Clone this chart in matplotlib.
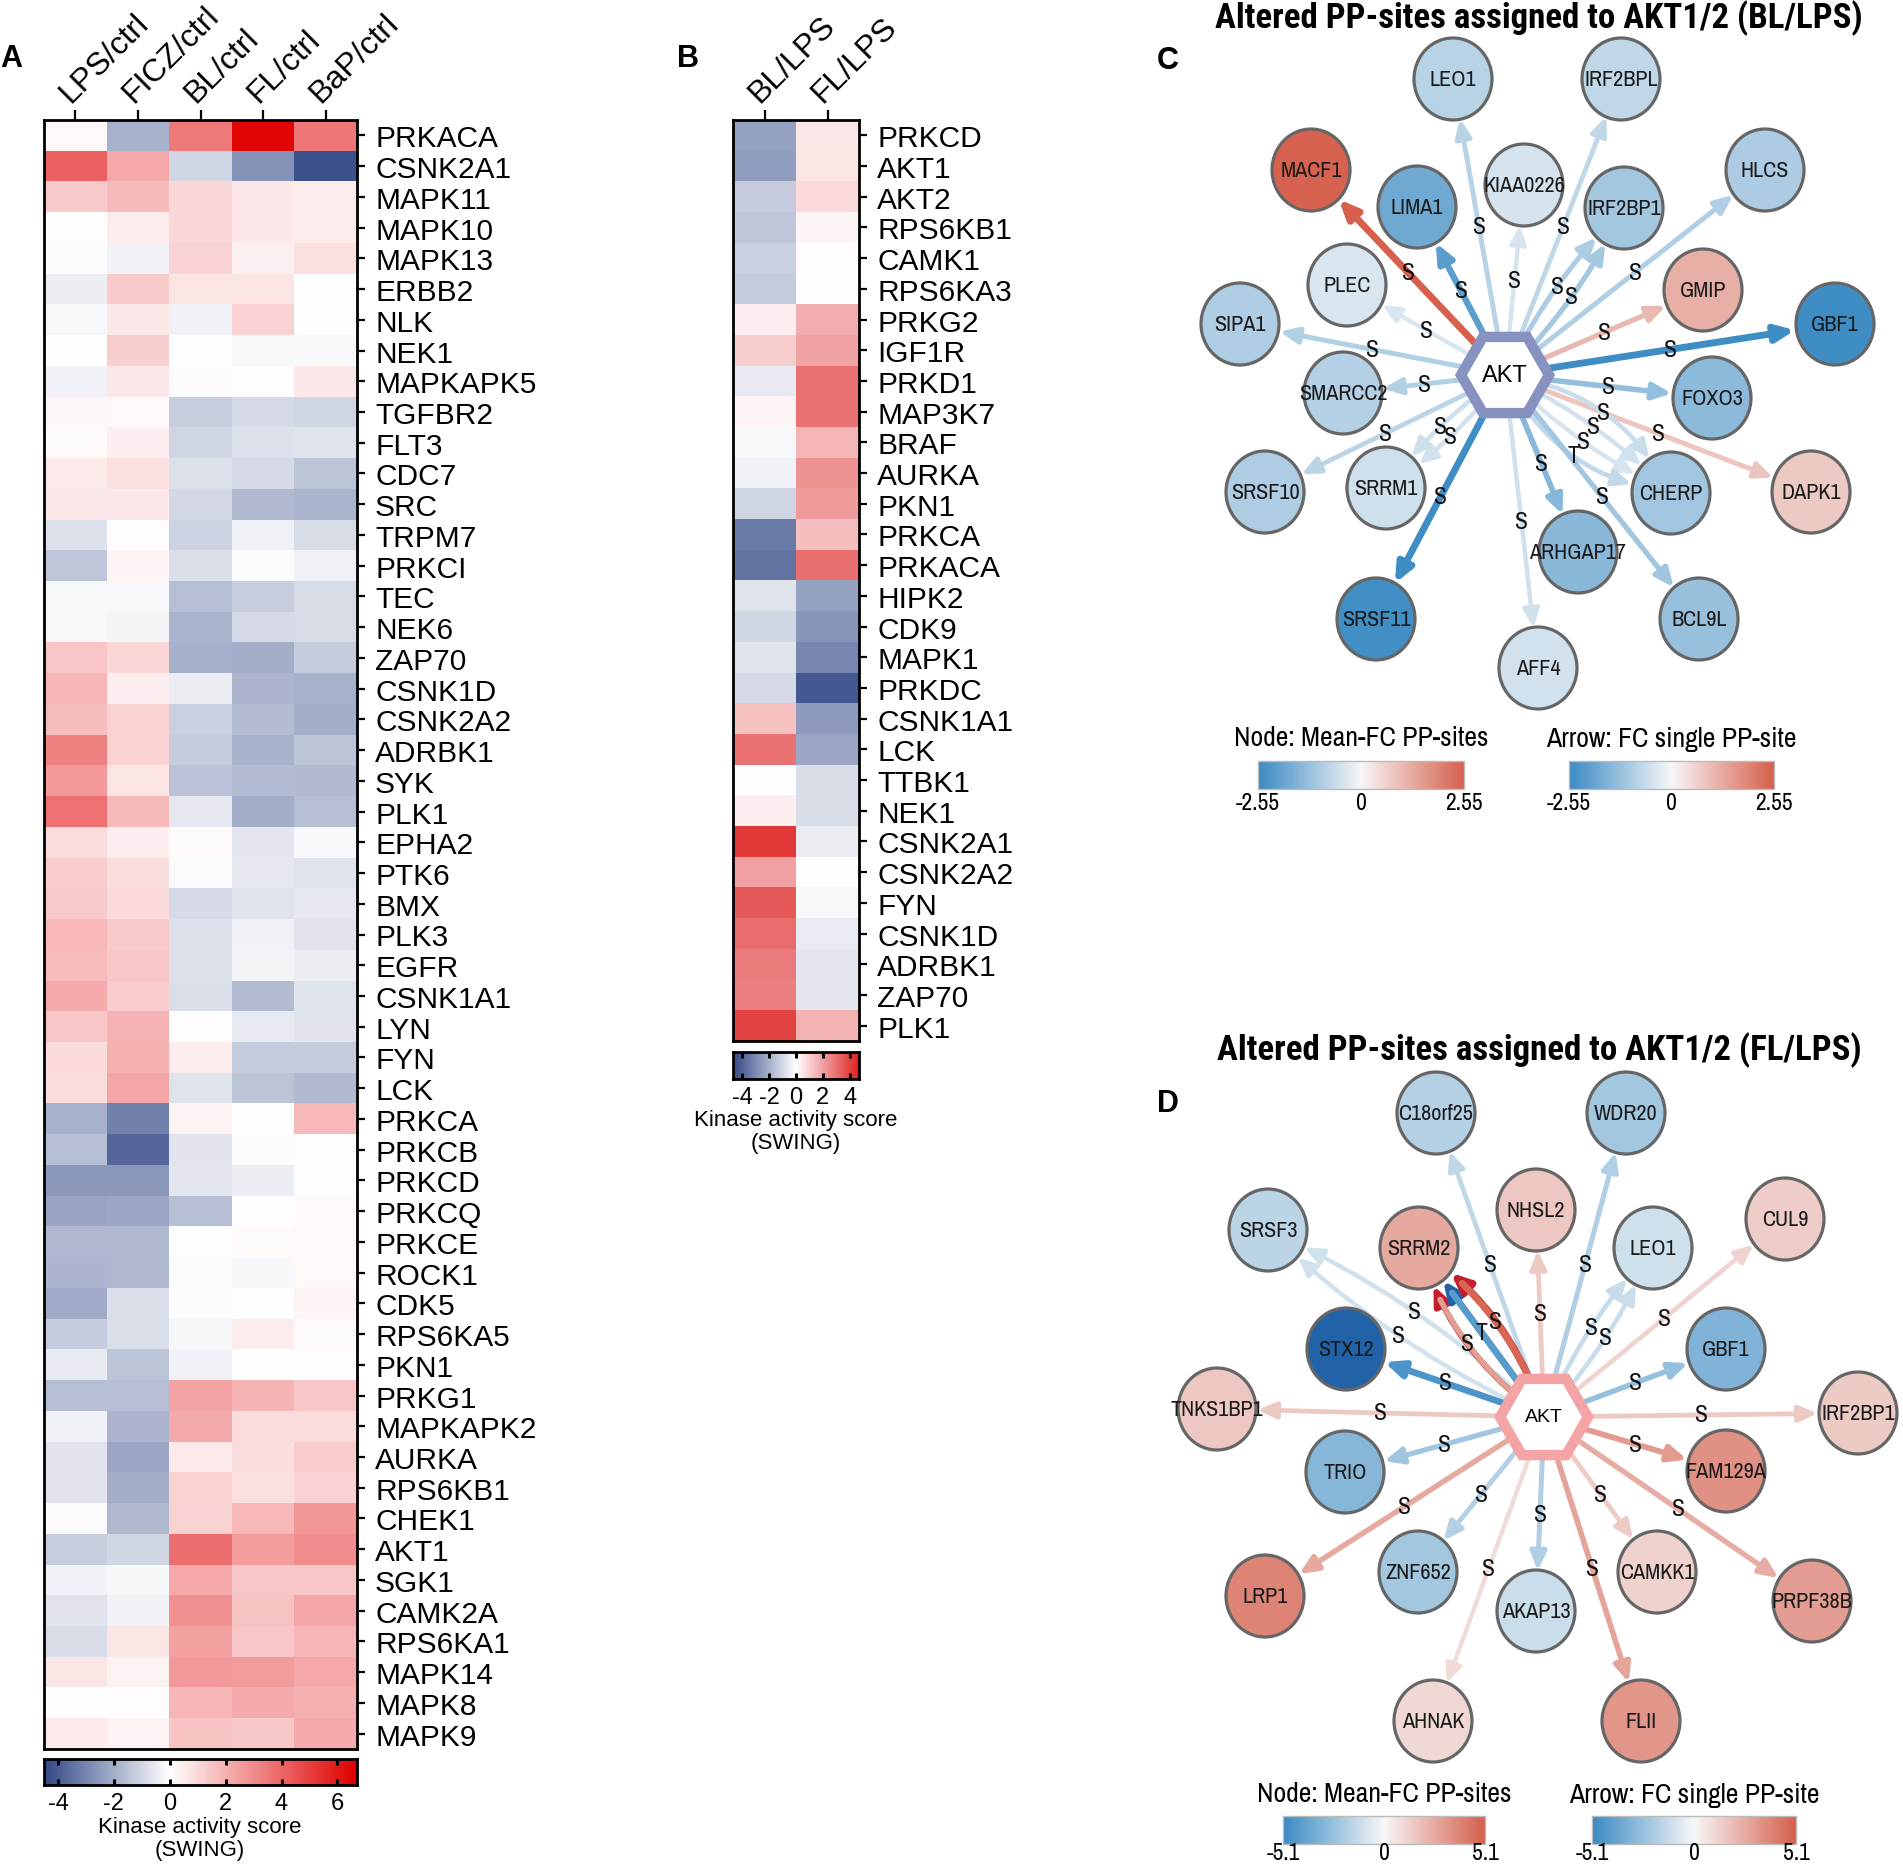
import numpy as np
import matplotlib
matplotlib.use('Agg')
import matplotlib.pyplot as plt
from matplotlib.colors import LinearSegmentedColormap, TwoSlopeNorm, Normalize
from matplotlib.patches import FancyArrowPatch, Ellipse, RegularPolygon, Rectangle
from matplotlib import font_manager as fm
from collections import Counter, defaultdict

# ====================== Panel A data ======================
colsA = ['LPS/ctrl', 'FICZ/ctrl', 'BL/ctrl', 'FL/ctrl', 'BaP/ctrl']
kinasesA = ['PRKACA', 'CSNK2A1', 'MAPK11', 'MAPK10', 'MAPK13', 'ERBB2', 'NLK', 'NEK1',
            'MAPKAPK5', 'TGFBR2', 'FLT3', 'CDC7', 'SRC', 'TRPM7', 'PRKCI', 'TEC', 'NEK6',
            'ZAP70', 'CSNK1D', 'CSNK2A2', 'ADRBK1', 'SYK', 'PLK1', 'EPHA2', 'PTK6', 'BMX',
            'PLK3', 'EGFR', 'CSNK1A1', 'LYN', 'FYN', 'LCK', 'PRKCA', 'PRKCB', 'PRKCD',
            'PRKCQ', 'PRKCE', 'ROCK1', 'CDK5', 'RPS6KA5', 'PKN1', 'PRKG1', 'MAPKAPK2',
            'AURKA', 'RPS6KB1', 'CHEK1', 'AKT1', 'SGK1', 'CAMK2A', 'RPS6KA1', 'MAPK14',
            'MAPK8', 'MAPK9']
LPS_ctrl = [0.2, 4.1, 1.4, 0.0, -0.1, -0.4, -0.15, 0.0, -0.3, 0.25, 0.15, 0.55, 0.6, -0.75,
            -1.4, -0.15, -0.15, 1.5, 1.9, 1.7, 3.3, 2.7, 3.7, 0.9, 1.35, 1.4, 1.85, 1.75, 2.25,
            1.5, 0.95, 0.9, -1.9, -1.6, -2.55, -2.25, -1.75, -1.8, -2.1, -1.25, -0.5, -1.6,
            -0.35, -0.65, -0.65, -0.1, -1.2, -0.3, -0.65, -0.85, 0.65, 0.0, 0.55]
FICZ_ctrl = [-1.9, 2.3, 1.8, 0.5, -0.3, 1.4, 0.6, 1.3, 0.6, 0.2, 0.45, 0.8, 0.6, 0.1,
             0.3, -0.15, -0.25, 1.05, 0.45, 1.2, 1.2, 0.7, 1.8, 0.45, 0.85, 0.95, 1.4, 1.5, 1.35,
             2.0, 2.05, 2.35, -3.1, -3.75, -2.55, -2.15, -1.75, -1.75, -0.8, -0.8, -1.45, -1.55,
             -1.8, -2.15, -2.0, -1.75, -1.0, -0.2, -0.3, 0.65, 0.35, 0.1, 0.35]
BL_ctrl = [3.5, -1.0, 1.0, 1.0, 1.1, 0.7, -0.3, 0.05, -0.05, -1.2, -1.05, -0.75, -0.95, -1.1,
           -0.8, -1.6, -1.85, -1.95, -0.45, -1.15, -1.25, -1.5, -0.55, 0.15, -0.1, -0.9, -0.75,
           -0.75, -0.8, 0.1, 0.5, -0.7, 0.35, -0.65, -0.6, -1.6, 0.03, -0.1, -0.05, -0.2, -0.3,
           2.4, 2.25, 0.55, 1.2, 1.1, 3.8, 2.3, 2.9, 2.5, 2.65, 1.9, 1.55]
FL_ctrl = [6.5, -2.7, 0.6, 0.6, 0.4, 0.7, 1.1, -0.15, 0.0, -0.9, -0.75, -0.9, -1.7, -0.35,
           -0.05, -1.2, -0.9, -2.0, -1.8, -1.65, -1.9, -1.65, -2.0, -0.6, -0.55, -0.7, -0.3,
           -0.25, -1.65, -0.5, -1.3, -1.45, 0.0, -0.05, -0.4, 0.0, 0.15, -0.2, 0.0, 0.5, -0.02,
           1.95, 0.9, 0.85, 0.8, 1.85, 2.6, 1.5, 1.6, 1.5, 2.6, 2.25, 1.45]
BaP_ctrl = [3.6, -4.3, 0.5, 0.5, 0.8, 0.0, 0.0, -0.15, 0.6, -1.05, -0.7, -1.45, -1.85, -0.85,
            -0.35, -0.85, -0.85, -1.25, -1.9, -2.0, -1.45, -1.7, -1.6, -0.15, -0.7, -0.55, -0.65,
            -0.4, -0.7, -0.65, -1.25, -1.7, 1.85, 0.1, 0.1, 0.2, 0.2, 0.2, 0.3, 0.15, 0.02,
            1.5, 0.9, 1.35, 1.15, 2.75, 3.0, 1.5, 2.35, 1.9, 2.3, 2.05, 2.25]
cbarA_ticks = [-4, -2, 0, 2, 4, 6]

# ====================== Panel B data ======================
colsB = ['BL/LPS', 'FL/LPS']
kinasesB = ['PRKCD', 'AKT1', 'AKT2', 'RPS6KB1', 'CAMK1', 'RPS6KA3', 'PRKG2', 'IGF1R', 'PRKD1',
            'MAP3K7', 'BRAF', 'AURKA', 'PKN1', 'PRKCA', 'PRKACA', 'HIPK2', 'CDK9', 'MAPK1',
            'PRKDC', 'CSNK1A1', 'LCK', 'TTBK1', 'NEK1', 'CSNK2A1', 'CSNK2A2', 'FYN', 'CSNK1D',
            'ADRBK1', 'ZAP70', 'PLK1']
BL_LPS = [-2.4, -2.5, -1.3, -1.45, -1.2, -1.35, 0.35, 1.05, -0.55, 0.2, -0.15, -0.3, -1.1,
          -3.4, -3.6, -0.7, -1.05, -0.7, -0.95, 1.3, 3.0, 0.0, 0.35, 4.2, 2.0, 3.5, 3.1, 2.8,
          2.7, 4.0]
FL_LPS = [0.5, 0.55, 0.8, 0.2, 0.05, 0.0, 1.7, 1.95, 3.0, 3.0, 1.55, 2.3, 2.1, 1.35, 3.05,
          -2.4, -2.75, -3.1, -4.3, -2.6, -2.3, -0.85, -0.85, -0.45, -0.02, -0.15, -0.5, -0.6,
          -0.6, 1.6]
cbarB_ticks = [-4, -2, 0, 2, 4]
cbar_title = 'Kinase activity score\n(SWING)'

# ====================== Panel C network ======================
titleC = 'Altered PP-sites assigned to AKT1/2 (BL/LPS)'
hubC_xy = (1505, 376)
nodesC = ['LEO1', 'IRF2BPL', 'MACF1', 'LIMA1', 'KIAA0226', 'IRF2BP1', 'HLCS', 'PLEC', 'GMIP',
          'SIPA1', 'GBF1', 'SMARCC2', 'FOXO3', 'SRSF10', 'SRRM1', 'CHERP', 'DAPK1',
          'ARHGAP17', 'SRSF11', 'BCL9L', 'AFF4']
nodesC_x = [1453, 1621, 1311, 1417, 1524, 1624, 1765, 1347, 1703, 1240, 1835, 1343, 1712,
            1265, 1386, 1671, 1811, 1578, 1376, 1699, 1538]
nodesC_y = [80, 80, 171, 208, 186, 209, 171, 286, 291, 325, 325, 394, 399, 493, 489, 494,
            493, 553, 620, 620, 669]
nodesC_fc = [-0.85, -0.75, 2.5, -1.85, -0.46, -1.12, -1.0, -0.4, 1.2, -0.96, -2.5, -0.9,
             -1.45, -0.98, -0.54, -1.14, 0.77, -1.48, -2.45, -1.28, -0.5]
edgesC_target = ['MACF1', 'LIMA1', 'LEO1', 'KIAA0226', 'IRF2BPL', 'IRF2BP1', 'IRF2BP1', 'HLCS',
                 'PLEC', 'GMIP', 'SIPA1', 'GBF1', 'SMARCC2', 'FOXO3', 'SRSF10', 'SRRM1',
                 'SRRM1', 'DAPK1', 'CHERP', 'CHERP', 'CHERP', 'CHERP', 'ARHGAP17', 'BCL9L',
                 'SRSF11', 'AFF4']
edgesC_fc = [2.55, -2.1, -0.85, -0.45, -0.75, -1.0, -1.1, -0.95, -0.4, 1.05, -0.93, -2.5,
             -0.93, -1.35, -0.8, -0.5, -0.55, 0.85, -0.6, -0.5, -0.45, -0.7, -1.5, -1.15,
             -2.5, -0.52]
edgesC_site = ['S'] * 21 + ['T'] + ['S'] * 4
rangeC = 2.55

# ====================== Panel D network ======================
titleD = 'Altered PP-sites assigned to AKT1/2 (FL/LPS)'
hubD_xy = (1544, 1418)
nodesD = ['C18orf25', 'WDR20', 'NHSL2', 'SRSF3', 'SRRM2', 'LEO1', 'CUL9', 'STX12', 'GBF1',
          'TNKS1BP1', 'IRF2BP1', 'TRIO', 'FAM129A', 'LRP1', 'ZNF652', 'AKAP13', 'CAMKK1',
          'PRPF38B', 'AHNAK', 'FLII']
nodesD_x = [1436, 1626, 1536, 1268, 1419, 1653, 1785, 1346, 1726, 1217, 1858, 1345, 1726,
            1265, 1418, 1536, 1657, 1812, 1433, 1641]
nodesD_y = [1114, 1114, 1211, 1231, 1249, 1249, 1220, 1350, 1350, 1410, 1414, 1473, 1472,
            1597, 1573, 1612, 1573, 1602, 1722, 1722]
nodesD_fc = [-1.8, -2.25, 1.6, -1.6, 2.6, -1.1, 1.4, -6.0, -3.2, 1.6, 1.5, -3.05, 3.45, 3.9,
             -2.25, -1.2, 1.25, 3.05, 1.0, 3.3]
edgesD_target = ['C18orf25', 'WDR20', 'NHSL2', 'SRSF3', 'SRSF3', 'SRRM2', 'SRRM2', 'SRRM2',
                 'LEO1', 'LEO1', 'CUL9', 'STX12', 'GBF1', 'TNKS1BP1', 'IRF2BP1', 'TRIO',
                 'FAM129A', 'LRP1', 'ZNF652', 'AKAP13', 'CAMKK1', 'PRPF38B', 'AHNAK', 'FLII']
edgesD_fc = [-1.5, -1.9, 1.5, -1.0, -1.05, 3.0, -4.3, 4.9, -1.3, -1.2, 1.2, -4.6, -2.6, 1.55,
             1.55, -2.3, 3.1, 2.6, -1.8, -1.9, 1.45, 2.5, 0.95, 2.8]
edgesD_head_fc = [None] * 5 + [6.0, -6.0, 6.0] + [None] * 16
edgesD_site = ['S'] * 6 + ['T'] + ['S'] * 17
rangeD = 5.1

legend_node_title = 'Node: Mean-FC PP-sites'
legend_arrow_title = 'Arrow: FC single PP-site'

# ====================== style / fonts ======================
plt.rcParams['font.family'] = ['Liberation Sans', 'DejaVu Sans']


def _w(v):
    if isinstance(v, str):
        return fm.weight_dict.get(v, 400)
    return v


entries = fm.fontManager.ttflist
names = {f.name for f in entries}
narrow_pref = ['Liberation Sans Narrow', 'Archivo Narrow', 'Roboto Condensed',
               'Barlow Semi Condensed', 'Encode Sans Semi Condensed', 'Fira Sans Condensed',
               'Asap Condensed']
NARROW = ['Liberation Sans', 'DejaVu Sans']
NS = 0.84
for n in narrow_pref:
    if n in names:
        NARROW = [n, 'Liberation Sans']
        NS = 1.0
        break
TITLE_FONT = None
for n in narrow_pref:
    if any(f.name == n and _w(f.weight) >= 650 for f in entries):
        TITLE_FONT = [n, 'Liberation Sans']
        break
if TITLE_FONT is None:
    TITLE_FONT = ['Liberation Sans']
    TS = 0.75
else:
    TS = 0.93

W, H = 1903, 1865
fig = plt.figure(figsize=(W / 100, H / 100), dpi=100)
net = fig.add_axes([0, 0, 1, 1])
net.axis('off')


def px_axes(x0, y0, x1, y1):
    return fig.add_axes([x0 / W, 1 - y1 / H, (x1 - x0) / W, (y1 - y0) / H])


cmapA = LinearSegmentedColormap.from_list('A', ['#344a87', '#ffffff', '#e00000'])
cmapB = LinearSegmentedColormap.from_list('B', ['#344a87', '#ffffff', '#de2222'])
cmap_net = LinearSegmentedColormap.from_list('net', ['#3b8bc4', '#f7f7f7', '#d6604d']).with_extremes(
    under='#2262a9', over='#c41f2c')


def heatmap(box, data, cols, rows, cmap, norm):
    ax = px_axes(*box)
    ax.imshow(data, cmap=cmap, norm=norm, aspect='auto', interpolation='nearest')
    ax.xaxis.tick_top()
    ax.set_xticks(range(len(cols)))
    ax.set_xticklabels(cols, rotation=45, ha='left', va='bottom', rotation_mode='anchor',
                       fontsize=23)
    ax.yaxis.tick_right()
    ax.set_yticks(range(len(rows)))
    ax.set_yticklabels(rows, fontsize=21.5)
    ax.tick_params(axis='x', length=7, width=1.6, pad=2)
    ax.tick_params(axis='y', length=6, width=1.6, pad=7)
    for s in ax.spines.values():
        s.set_linewidth(2.0)
    return ax


def colorbar(box, cmap, norm, vmin, vmax, ticks):
    ax = px_axes(*box)
    grad = np.linspace(vmin, vmax, 400)[None, :]
    ax.imshow(grad, cmap=cmap, norm=norm, aspect='auto', extent=(vmin, vmax, 0, 1),
              interpolation='bilinear')
    ax.set_xlim(vmin, vmax)
    ax.set_yticks([])
    ax.set_xticks(ticks)
    ax.set_xticklabels([str(t) for t in ticks])
    ax.tick_params(axis='x', direction='in', top=True, bottom=True, length=4, width=2.2,
                   labelsize=17, pad=5)
    for s in ax.spines.values():
        s.set_linewidth(2.0)
    return ax


# ---------- Panel A ----------
dataA = np.array([LPS_ctrl, FICZ_ctrl, BL_ctrl, FL_ctrl, BaP_ctrl]).T
normA = TwoSlopeNorm(vcenter=0, vmin=-4.5, vmax=6.7)
heatmap((44, 121, 357, 1750), dataA, colsA, kinasesA, cmapA, normA)
colorbar((44, 1760, 357, 1786), cmapA, normA, -4.5, 6.7, cbarA_ticks)
net.text(200, 1839, cbar_title, fontsize=16, ha='center', va='center', linespacing=1.1)

# ---------- Panel B ----------
dataB = np.array([BL_LPS, FL_LPS]).T
normB = Normalize(-4.7, 4.7)
heatmap((733, 121, 859, 1042), dataB, colsB, kinasesB, cmapB, normB)
colorbar((733, 1053, 859, 1080), cmapB, normB, -4.7, 4.7, cbarB_ticks)
net.text(796, 1132, cbar_title, fontsize=16, ha='center', va='center', linespacing=1.1)

# panel letters
for letter, (lx, ly) in zip('ABCD', [(11, 59), (688, 59), (1168, 61), (1168, 1104)]):
    net.text(lx, ly, letter, fontsize=22, fontweight='bold', ha='center', va='center')

NODE_W, NODE_H = 78, 82


def draw_network(hub, hub_color, hub_fs, names_, xs, ys, fcs, tgt, efc, esite, vmax,
                 head_fc=None):
    norm = Normalize(-vmax, vmax)
    pos = {n: (x, y) for n, x, y in zip(names_, xs, ys)}
    hx, hy = hub
    counts = Counter(tgt)
    seen = defaultdict(int)
    if head_fc is None:
        head_fc = [None] * len(tgt)
    r_pt = NODE_W / 2 * 0.72 + 1
    for t, fc, site, hfc in zip(tgt, efc, esite, head_fc):
        n = counts[t]
        i = seen[t]
        seen[t] += 1
        rad = (i - (n - 1) / 2) * 0.17 if n > 1 else 0.0
        x1, y1 = pos[t]
        col = cmap_net(norm(fc))
        lw = 2.8 + 2.2 * min(abs(fc) / vmax, 1.0)
        style = 'arc3,rad=%.3f' % rad
        hcol = col if hfc is None else cmap_net(norm(hfc))
        a = FancyArrowPatch((hx, hy), (x1, y1), connectionstyle=style,
                            arrowstyle='-|>,head_length=0.5,head_width=0.22',
                            mutation_scale=22, lw=lw, color=hcol, shrinkA=0, shrinkB=r_pt,
                            zorder=2)
        net.add_patch(a)
        if hfc is not None:
            b = FancyArrowPatch((hx, hy), (x1, y1), connectionstyle=style, arrowstyle='-',
                                lw=lw, color=col, shrinkA=0, shrinkB=r_pt + 11,
                                zorder=2.1)
            net.add_patch(b)
        dx, dy = x1 - hx, y1 - hy
        mx = (hx + x1) / 2 - 0.5 * rad * dy
        my = (hy + y1) / 2 + 0.5 * rad * dx
        net.text(mx, my, site, fontsize=17 * NS, family=NARROW, ha='center', va='center',
                 zorder=6, color='#111111')
    for nme, x, y, fc in zip(names_, xs, ys, fcs):
        net.add_patch(Ellipse((x, y), NODE_W, NODE_H, facecolor=cmap_net(norm(fc)),
                              edgecolor='#666666', lw=2.3, zorder=3))
        net.text(x, y, nme, fontsize=16 * NS, family=NARROW, ha='center', va='center',
                 zorder=4, color='#1a1a1a')
    net.add_patch(RegularPolygon((hx, hy), 6, radius=44, orientation=np.pi / 6,
                                 facecolor='white', edgecolor=hub_color, lw=7.5, zorder=4))
    net.text(hx, hy, 'AKT', fontsize=hub_fs, ha='center', va='center', zorder=5,
             family=['Liberation Sans'])


def draw_legends(y_title, bar_y0, bar_y1, node_x, arrow_x, ticklabels):
    grad = np.linspace(0, 1, 300)[None, :]
    for (x0, x1), title in zip([node_x, arrow_x], [legend_node_title, legend_arrow_title]):
        net.imshow(grad, extent=(x0, x1, bar_y1, bar_y0), cmap=cmap_net, aspect='auto',
                   vmin=0, vmax=1, zorder=2, interpolation='bilinear')
        net.add_patch(Rectangle((x0, bar_y0), x1 - x0, bar_y1 - bar_y0, fill=False,
                                edgecolor='#bbbbbb', lw=1.0, zorder=3))
        net.text((x0 + x1) / 2, y_title, title, fontsize=20 * NS, family=NARROW,
                 ha='center', va='center')
        for frac, lab in zip([0, 0.5, 1], ticklabels):
            net.text(x0 + frac * (x1 - x0), min(bar_y1 + 14, 1853), lab, fontsize=17 * NS,
                     family=NARROW, ha='center', va='center')


# ---------- Panel C ----------
net.text(1539, 28, titleC, fontsize=27 * TS, fontweight='bold', family=TITLE_FONT,
         ha='center', va='baseline')
draw_network(hubC_xy, '#8892c0', 17, nodesC, nodesC_x, nodesC_y, nodesC_fc, edgesC_target,
             edgesC_fc, edgesC_site, rangeC)
draw_legends(739, 762, 790, (1258, 1464), (1569, 1774), ['-2.55', '0', '2.55'])

# ---------- Panel D ----------
net.text(1539, 1060, titleD, fontsize=27 * TS, fontweight='bold', family=TITLE_FONT,
         ha='center', va='baseline')
draw_network(hubD_xy, '#f4a4a4', 14, nodesD, nodesD_x, nodesD_y, nodesD_fc, edgesD_target,
             edgesD_fc, edgesD_site, rangeD, head_fc=edgesD_head_fc)
draw_legends(1795, 1817, 1845, (1283, 1485), (1592, 1796), ['-5.1', '0', '5.1'])

net.set_xlim(0, W)
net.set_ylim(H, 0)
fig.savefig('out.png', dpi=100)
